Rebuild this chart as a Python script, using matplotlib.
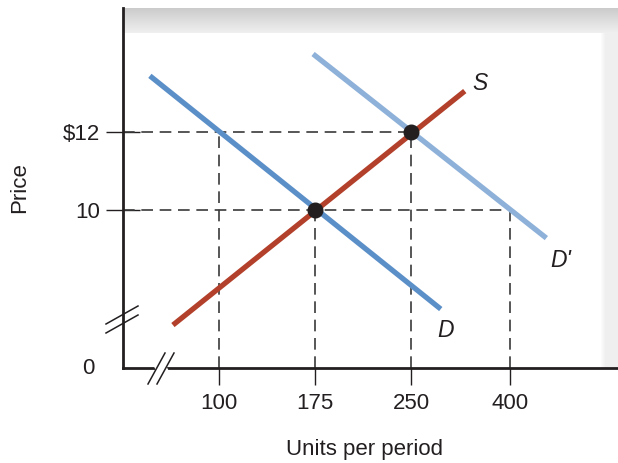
import numpy as np
import matplotlib
matplotlib.use("Agg")
import matplotlib.pyplot as plt

plt.rcParams['font.family'] = ['Liberation Sans', 'DejaVu Sans']

# ---- data (x in category positions along the axis, y in price units) ----
x_tick_pos = [1, 2, 3, 4.03]
x_tick_labels = ["100", "175", "250", "400"]
y_tick_pos = [5.95, 10, 12]
y_tick_labels = ["0", "10", "$12"]

supply_x = [0.52, 3.56]
supply_y = [7.05, 13.05]
demand_x = [0.28, 3.31]
demand_y = [13.44, 7.46]
demand2_x = [1.98, 4.41]
demand2_y = [14.0, 9.28]

eq_x = [2, 3]
eq_y = [10, 12]

# guide lines
guide_h = [(12, 3), (10, 4.03)]          # (price, quantity position)
guide_v = [(1, 12), (2, 10), (3, 12), (4.03, 10)]  # (quantity position, price)

W, H = 618, 463
fig = plt.figure(figsize=(W / 100, H / 100), dpi=100)

# pixel geometry
L, R, T, B = 123, 618, 8, 368
ax = fig.add_axes([L / W, (H - B) / H, (R - L) / W, (B - T) / H])
xmin, xmax = 0, (R - L) / 96
ymin, ymax = 10 - (B - 210) / 39, 10 + (210 - T) / 39
ax.set_xlim(xmin, xmax)
ax.set_ylim(ymin, ymax)

# background gradient (gray band at top and right)
nx, ny = R - L, B - T
xs = np.arange(nx)[None, :] + L
ys = np.arange(ny)[:, None] + T
top = np.clip((34 - ys) / 26, 0, 1)
top_val = np.where(ys < 33, 0.95 - 0.15 * top, 1.0) * np.ones((ny, nx))
right = np.where(xs > 605, 0.94, 1.0)
right = np.where((xs > 600) & (xs <= 605), 1 - (xs - 600) / 5 * 0.06, right) * np.ones((ny, nx))
img = np.minimum(top_val, right)
rgb = np.dstack([img, img, img])
ax.imshow(rgb, extent=[xmin, xmax, ymin, ymax], aspect='auto', zorder=0,
          interpolation='bilinear')

for s in ['top', 'right']:
    ax.spines[s].set_visible(False)
for s in ['left', 'bottom']:
    ax.spines[s].set_linewidth(2)
    ax.spines[s].set_color('#231f20')

# dashed guides
dash_kw = dict(color='#3a3a3a', lw=1.2, dashes=(7, 4), zorder=2)
for p, q in guide_h:
    ax.plot([xmin, q], [p, p], **dash_kw)
for q, p in guide_v:
    ax.plot([q, q], [ymin, p], **dash_kw)

# curves
ax.plot(demand_x, demand_y, color='#5b8fc8', lw=3.8, solid_capstyle='butt', zorder=3)
ax.plot(demand2_x, demand2_y, color='#8eb1d9', lw=3.8, solid_capstyle='butt', zorder=3)
ax.plot(supply_x, supply_y, color='#b3402a', lw=3.8, solid_capstyle='butt', zorder=4)
ax.plot(eq_x, eq_y, 'o', color='#231f20', ms=10.5, zorder=5)

lab_kw = dict(fontsize=16.5, style='italic', color='#231f20')
ax.text(3.72, 13.25, "S", ha='center', va='center', **lab_kw)
ax.text(4.56, 8.7, "D'", ha='center', va='center', **lab_kw)
ax.text(3.36, 6.9, "D", ha='center', va='center', **lab_kw)

# ticks
fs = 16
ax.set_xticks(x_tick_pos)
ax.set_xticklabels(x_tick_labels, fontsize=fs, color='#231f20')
ax.set_yticks(y_tick_pos[1:])
ax.set_yticklabels(y_tick_labels[1:], fontsize=fs, color='#231f20')
ax.tick_params(axis='x', direction='out', length=12, width=1, pad=6, colors='#231f20')
ax.tick_params(axis='y', direction='inout', length=25, width=1, pad=4, colors='#231f20')
ax.text(-0.3, ymin, y_tick_labels[0], ha='right', va='center', fontsize=fs,
        color='#231f20', clip_on=False)

fig.text(365 / W, 1 - 450 / H, "Units per period", ha='center', va='center',
         fontsize=fs, color='#231f20')
fig.text(20 / W, 1 - 188 / H, "Price", ha='center', va='center', rotation=90,
         fontsize=fs, color='#231f20')

# axis break marks (in pixel space)
def pix(x, y):
    return (x / W, 1 - y / H)

def seg(p0, p1, **kw):
    a, b = pix(*p0), pix(*p1)
    fig.add_artist(plt.Line2D([a[0], b[0]], [a[1], b[1]], transform=fig.transFigure, **kw))

fig.add_artist(plt.Polygon([pix(154, 365), pix(165, 365), pix(168, 371), pix(157, 371)],
                           closed=True, transform=fig.transFigure, color='white', zorder=10))
seg((106, 333), (138, 315), color='#231f20', lw=1.1, zorder=11)
seg((106, 324), (138, 306), color='#231f20', lw=1.1, zorder=11)
seg((148, 384), (165, 353), color='#231f20', lw=1.1, zorder=11)
seg((157, 384), (174, 353), color='#231f20', lw=1.1, zorder=11)

fig.savefig("out.png", dpi=100)
